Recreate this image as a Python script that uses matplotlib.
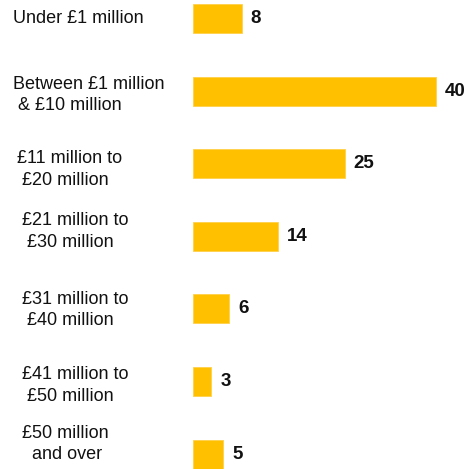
import matplotlib
matplotlib.use("Agg")
import matplotlib.pyplot as plt
from matplotlib.transforms import blended_transform_factory, offset_copy

categories = [
    "Under £1 million",
    "Between £1 million\n & £10 million",
    "£11 million to\n £20 million",
    "£21 million to\n £30 million",
    "£31 million to\n £40 million",
    "£41 million to\n £50 million",
    "£50 million\n  and over",
]
values = [8, 40, 25, 14, 6, 3, 5]
# label placement: left edge (px) and vertical nudge (px, positive = down)
label_left = [13, 13, 17, 22, 22, 22, 22]
label_shift = [0, 4, 6, -5, 1, 4, -10]

W, H, DPI = 471, 469, 100
fig = plt.figure(figsize=(W / DPI, H / DPI), dpi=DPI)
fig.patch.set_facecolor("white")

x0 = 193            # left edge of bars, px
px_per_unit = 6.07
row_px = 72.6
first_center = 18.5

ax = fig.add_axes([x0 / W, 0, 1 - x0 / W, 1])
ax.set_xlim(0, (W - x0) / px_per_unit)
ax.set_ylim((H - first_center) / row_px, -first_center / row_px)
ax.axis("off")

pos = list(range(len(values)))
ax.barh(pos, values, height=0.40, color="#FFC000", edgecolor="#FFD04A", linewidth=0.6)

for y, v in zip(pos, values):
    ax.annotate(str(v), xy=(v, y), xytext=(6.5, 0), textcoords="offset points",
                ha="left", va="center", fontsize=13.5, fontweight="bold",
                family=["Liberation Sans", "DejaVu Sans"], color="#111111")

trans = blended_transform_factory(fig.transFigure, ax.transData)
for y, lab, lx, dy in zip(pos, categories, label_left, label_shift):
    t = offset_copy(trans, fig=fig, x=0, y=-dy, units="dots")
    fig.text(lx / W, y, lab, transform=t, ha="left", va="center",
             multialignment="left", fontsize=13, linespacing=1.36,
             family=["Liberation Sans", "DejaVu Sans"], color="#111111")

fig.savefig("out.png", dpi=DPI, facecolor="white")
